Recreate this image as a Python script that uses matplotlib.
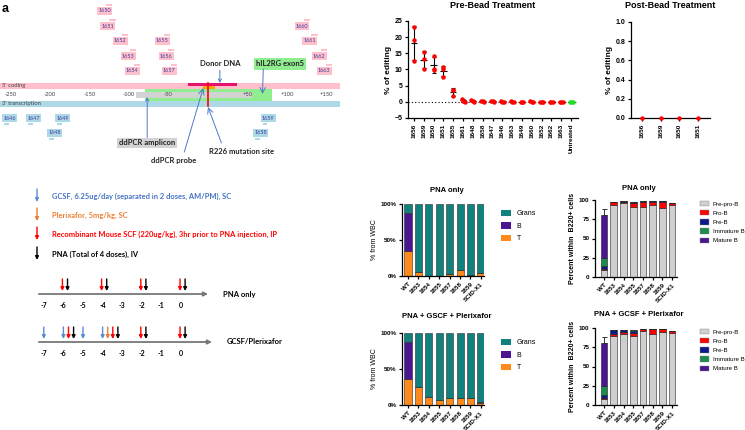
import numpy as np
import matplotlib.pyplot as plt
from matplotlib.patches import Rectangle, Patch

plt.rcParams['font.family'] = ['Liberation Sans', 'DejaVu Sans']

W, H = 745, 430

# ---------------- data ----------------
# guide RNAs along the hIL2RG exon 5 region, position in bp relative to R226
top_guides = ['1650', '1651', '1652', '1653', '1654', '1655', '1656', '1657', '1660', '1661', '1662', '1663']
top_guide_bp = [-139, -135, -119, -109, -104, -66, -61, -57, 111, 121, 133, 139]
top_guide_row = [11, 26, 41, 56, 71, 41, 56, 71, 26, 41, 56, 71]
bot_guides = ['1646', '1647', '1649', '1648', '1659', '1658']
bot_guide_bp = [-259, -229, -192, -202, 68, 59]
bot_guide_row = [118, 118, 118, 133, 118, 133]
ruler_bp = [-250, -200, -150, -100, -50, 50, 100, 150]
amplicon_bp = (-91, 56)
exon_bp = (-80, 81)
donor_bp = (-25, 37)
probe_bp = (-6, 9)

# % editing before bead treatment (3 replicates each)
pre_guides = ['1656', '1659', '1650', '1651', '1655', '1661', '1648', '1658', '1647',
              '1646', '1663', '1649', '1660', '1652', '1662', '1663', 'Untreated']
pre_rep1 = [23.0, 15.5, 14.1, 10.7, 3.7, 0.9, 0.6, 0.3, 0.3, 0.2, 0.2, 0.1, 0.2, 0.1, 0.0, 0.1, 0.0]
pre_rep2 = [19.2, 13.3, 10.0, 10.0, 3.6, 0.3, 0.2, 0.2, 0.2, 0.1, 0.1, 0.0, 0.1, 0.1, 0.0, 0.1, 0.0]
pre_rep3 = [12.5, 10.3, 9.7, 7.8, 1.7, 0.1, 0.1, 0.1, 0.1, 0.1, 0.1, 0.0, 0.0, 0.0, 0.0, 0.1, 0.0]

post_guides = ['1656', '1659', '1650', '1651']
post_values = [0.0, 0.0, 0.0, 0.0]

# WBC composition (%)
samples = ['WT', '1653', '1654', '1655', '1657', '1658', '1659', 'SCID-X1']
pna_T = [35, 5, 0.5, 0.5, 2.5, 9, 1, 3.5]
pna_B = [52, 0.5, 0, 0, 0, 0, 0, 0]
gscf_T = [36, 25, 11, 7, 9.5, 10, 9.5, 3]
gscf_B = [51, 0, 0, 0, 0, 0, 0, 1]

# B220+ subsets (%)
pna_prepro = [8.5, 93, 96.5, 91, 91, 94, 90, 93]
pna_pro = [1.5, 4, 1.5, 5, 7, 3, 8, 3]
pna_pre = [4, 1, 1, 2, 0.5, 1.5, 0.5, 0.5]
pna_imm = [11, 0, 0, 0, 0, 0, 0, 0]
pna_mat = [55, 0, 0, 0, 0, 0, 0, 0]
gscf_prepro = [8, 89, 92, 90, 96, 92, 95, 93]
gscf_pro = [1.5, 3, 3, 3, 2.5, 7, 3.5, 3]
gscf_pre = [4, 5.5, 3, 3, 0.3, 0, 0, 0.5]
gscf_imm = [11, 0, 0, 1.5, 0, 0, 0, 0]
gscf_mat = [55.5, 0, 0, 0, 0, 0, 0, 0]
wt_err = 8

# dosing schedule (day)
gcsf_days = [-7, -6, -5, -4]
plerixafor_days = [-4]
scf_days = [-6, -4, -2, 0]
pna_days = [-6, -4, -2, 0]

C_BLUE = '#5b8bd6'
C_ORANGE = '#ed7d31'
C_RED = '#ff0000'
C_GRANS = '#12807c'
C_B = '#4b1591'
C_T = '#ff8a1c'
sub_colors = ['#cfcfcf', '#ff0000', '#0a1a8c', '#1d8a4e', '#4b1591']
sub_names = ['Pre-pro-B', 'Pro-B', 'Pre-B', 'Immature B', 'Mature B']

fig = plt.figure(figsize=(W / 100, H / 100), dpi=100)


def px_axes(l, t, r, b):
    return fig.add_axes([l / W, 1 - b / H, (r - l) / W, (b - t) / H])


def ftext(x, y, s, **kw):
    fig.text(x / W, 1 - y / H, s, **kw)


def prism(ax, fs=5, xfs=None):
    for s in ['top', 'right']:
        ax.spines[s].set_visible(False)
    for s in ['left', 'bottom']:
        ax.spines[s].set_linewidth(0.9)
    ax.tick_params(width=0.9, length=2.5, labelsize=fs, pad=1.5)
    if xfs:
        ax.tick_params(axis='x', labelsize=xfs)
    for lab in ax.get_xticklabels() + ax.get_yticklabels():
        lab.set_fontweight('bold')


ftext(2, 9, 'a', fontsize=9, fontweight='bold', va='center')

# ---------------- gene map ----------------
ag = px_axes(0, 0, 340, 175)
ag.set_xlim(-263.3, 167.1)
ag.set_ylim(175, 0)
ag.axis('off')
gfont = dict(family=['Lato', 'DejaVu Sans'])
ag.add_patch(Rectangle((-263.3, 83), 430.4, 6, fc='#ffc0cb', ec='none'))
ag.add_patch(Rectangle((-263.3, 101), 430.4, 6, fc='#add8e6', ec='none'))
ag.add_patch(Rectangle((exon_bp[0], 89), exon_bp[1] - exon_bp[0], 12, fc='#90ee90', ec='none'))
ag.add_patch(Rectangle((amplicon_bp[0], 92), amplicon_bp[1] - amplicon_bp[0], 6, fc='#d3d3d3', ec='none'))
ag.add_patch(Rectangle((donor_bp[0], 83.3), donor_bp[1] - donor_bp[0], 2.8, fc='#e8116e', ec='none'))
ag.add_patch(Rectangle((probe_bp[0], 86.1), probe_bp[1] - probe_bp[0], 2.6, fc='#ffa500', ec='none'))
ag.plot([0, 0], [83, 106], color=C_RED, lw=1.2)
ag.text(-261, 86, "5' coding", fontsize=4.2, va='center', color='#444444', **gfont)
ag.text(-261, 104, "3' transcription", fontsize=4.2, va='center', color='#444444', **gfont)
for b in ruler_bp:
    lab = ('+%d' % b) if b > 0 else str(b)
    ag.text(b, 95, lab, fontsize=4.2, ha='center', va='center', color='#444444', **gfont)

for name, b, r in zip(top_guides, top_guide_bp, top_guide_row):
    ag.text(b, r, name, fontsize=4, va='center', color='#3b3b9e',
            bbox=dict(boxstyle='square,pad=0.2', fc='#ffc0cb', ec='none'), **gfont)
    ag.add_patch(Rectangle((b + 10, r - 7), 8, 2, fc='#ffc0cb', ec='none'))
for name, b, r in zip(bot_guides, bot_guide_bp, bot_guide_row):
    ag.text(b, r, name, fontsize=4, va='center', color='#3b3b9e',
            bbox=dict(boxstyle='square,pad=0.2', fc='#add8e6', ec='none'), **gfont)
    ag.add_patch(Rectangle((b + 1, r + 4.5), 6, 2, fc='#add8e6', ec='none'))

arr = dict(arrowstyle='->', color='#4a7cc9', lw=0.7, shrinkA=0, shrinkB=0)
ag.annotate('Donor DNA', xy=(15, 83), xytext=(15, 64), ha='center', va='center',
            fontsize=5.5, fontweight='bold', color='#222222', arrowprops=arr, **gfont)
ag.text(61, 64, 'hIL2RG exon5', ha='left', va='center', fontsize=5.5, fontweight='bold',
        color='#222222', bbox=dict(boxstyle='square,pad=0.3', fc='#90ee90', ec='none'), **gfont)
ag.annotate('', xy=(69, 94), xytext=(70, 69), arrowprops=arr)
ag.annotate('ddPCR amplicon', xy=(-77, 97), xytext=(-77, 143), ha='center', va='center',
            fontsize=5.5, fontweight='bold', color='#222222', arrowprops=arr,
            bbox=dict(boxstyle='square,pad=0.25', fc='#d3d3d3', ec='none'), **gfont)
ag.annotate('', xy=(-6, 88), xytext=(-30, 152), arrowprops=arr)
ag.text(-43, 160, 'ddPCR probe', fontsize=5.5, fontweight='bold', ha='center', va='center',
        color='#222222', **gfont)
ag.annotate('', xy=(0, 107), xytext=(17, 143), arrowprops=arr)
ag.text(42, 151, 'R226 mutation site', fontsize=5.5, fontweight='bold', ha='center', va='center',
        color='#222222', **gfont)

# ---------------- dosing schedule ----------------
at = px_axes(0, 180, 340, 430)
at.set_xlim((0 - 181) / 19.6, (340 - 181) / 19.6)
at.set_ylim(430, 180)
at.axis('off')
tfont = dict(family=['Lato', 'DejaVu Sans'], fontweight='bold')
legend_rows = [(C_BLUE, '#4472c4', 'GCSF, 6.25ug/day (separated in 2 doses, AM/PM), SC', 196),
               (C_ORANGE, C_ORANGE, 'Plerixafor, 5mg/kg, SC', 215),
               (C_RED, C_RED, 'Recombinant Mouse SCF (220ug/kg), 3hr prior to PNA injection, IP', 234),
               ('black', 'black', 'PNA (Total of 4 doses), IV', 254)]
lx = (37 - 181) / 19.6
for ac, tc, s, y in legend_rows:
    at.annotate('', xy=(lx, y + 6), xytext=(lx, y - 7),
                arrowprops=dict(arrowstyle='-|>', color=ac, lw=1.0, mutation_scale=5, shrinkA=0, shrinkB=0))
    at.text(lx + 0.78, y, s, fontsize=5.4, va='center', color=tc, **tfont)


def timeline(y, label, schedule, x_end):
    at.annotate('', xy=(x_end, y), xytext=(-7.25, y),
                arrowprops=dict(arrowstyle='-|>', color='#777777', lw=1.3, mutation_scale=6,
                                shrinkA=0, shrinkB=0))
    at.text(x_end + 0.75, y, label, fontsize=5.5, va='center', **tfont)
    for d in range(-7, 1):
        at.text(d, y + 12, str(d), fontsize=5, ha='center', va='center', **tfont)
    for d in range(-7, 1):
        cols = [c for c, days in schedule if d in days]
        if not cols:
            continue
        x0 = 0 if cols[0] == C_BLUE else -0.05
        for k, c in enumerate(cols):
            at.annotate('', xy=(d + x0 + 0.26 * k, y - 3), xytext=(d + x0 + 0.26 * k, y - 15),
                        arrowprops=dict(arrowstyle='-|>', color=c, lw=1.0, mutation_scale=5,
                                        shrinkA=0, shrinkB=0))


timeline(294, 'PNA only', [(C_RED, scf_days), ('black', pna_days)], (208 - 181) / 19.6)
timeline(342, 'GCSF/Plerixafor', [(C_BLUE, gcsf_days), (C_ORANGE, plerixafor_days),
                                  (C_RED, scf_days), ('black', pna_days)], (212 - 181) / 19.6)

# ---------------- pre-bead editing ----------------
ap = px_axes(408, 21, 578, 118)
reps = np.array([pre_rep1, pre_rep2, pre_rep3])
xs = np.arange(len(pre_guides))
means = reps.mean(axis=0)
sds = reps.std(axis=0, ddof=1)
ap.axhline(0, color='black', lw=0.8, ls=(0, (1, 2)), zorder=1)
ap.errorbar(xs, means, yerr=sds, fmt='none', ecolor='black', elinewidth=0.8, capsize=1.5,
            capthick=0.8, zorder=2)
ap.hlines(means, xs - 0.33, xs + 0.33, color='black', lw=0.8, zorder=2)
for i in xs:
    col = '#22dd22' if pre_guides[i] == 'Untreated' else C_RED
    vals = reps[:, i]
    offs = [-0.15, 0, 0.15] if np.ptp(vals) < 1.2 else [0, 0, 0]
    ap.plot(i + np.array(offs), vals, 'o', color=col, ms=3.2, mec='none', zorder=3)
ap.set_xlim(-0.6, 16.7)
ap.set_ylim(-5, 25)
ap.set_yticks([-5, 0, 5, 10, 15, 20, 25])
ap.set_xticks(xs)
ap.set_xticklabels(pre_guides, rotation=90)
ap.set_ylabel('% of editing', fontsize=6, fontweight='bold', labelpad=2)
prism(ap, xfs=4.6)
ftext(493, 6, 'Pre-Bead Treatment', fontsize=6.5, fontweight='bold', ha='center', va='center')

# ---------------- post-bead editing ----------------
aq = px_axes(631, 22, 710, 118)
aq.plot(np.arange(4), post_values, 'o', color=C_RED, ms=3.2, mec='none', clip_on=False, zorder=3)
aq.set_xlim(-0.6, 3.65)
aq.set_ylim(0, 1)
aq.set_yticks(np.arange(0, 1.01, 0.2))
aq.set_yticklabels(['%.1f' % v for v in np.arange(0, 1.01, 0.2)])
aq.set_xticks(np.arange(4))
aq.set_xticklabels(post_guides, rotation=90)
aq.set_ylabel('% of editing', fontsize=6, fontweight='bold', labelpad=2)
prism(aq, xfs=4.6)
ftext(670, 6, 'Post-Bead Treatment', fontsize=6.5, fontweight='bold', ha='center', va='center')


# ---------------- WBC composition ----------------
def wbc_panel(rect, T, B, title, ty):
    ax = px_axes(*rect)
    x = np.arange(len(samples))
    T = np.array(T)
    B = np.array(B)
    G = 100 - T - B
    kw = dict(width=0.68, edgecolor='#2b2b2b', linewidth=0.4)
    ax.bar(x, T, color=C_T, **kw)
    ax.bar(x, B, bottom=T, color=C_B, **kw)
    ax.bar(x, G, bottom=T + B, color=C_GRANS, **kw)
    ax.set_xlim(-0.58, 7.3)
    ax.set_ylim(0, 100)
    ax.set_yticks([0, 50, 100])
    ax.set_yticklabels(['0%', '50%', '100%'])
    ax.set_xticks(x)
    ax.set_xticklabels(samples, rotation=45, ha='right', rotation_mode='anchor')
    ax.set_ylabel('% from WBC', fontsize=5, labelpad=2)
    prism(ax, fs=4.5)
    handles = [Patch(fc=C_GRANS, label='Grans'), Patch(fc=C_B, label='B'), Patch(fc=C_T, label='T')]
    ax.legend(handles=handles, loc='upper left', bbox_to_anchor=(1.17, 0.97), frameon=False,
              fontsize=5, handlelength=1.4, handleheight=1.1, labelspacing=0.7, borderpad=0,
              handletextpad=0.8)
    ftext((rect[0] + rect[2]) / 2 + 4, ty, title, fontsize=5.5, fontweight='bold', ha='center',
          va='center')


wbc_panel((402, 204, 484, 276), pna_T, pna_B, 'PNA only', 190)
wbc_panel((402, 333, 484, 405), gscf_T, gscf_B, 'PNA + GSCF + Plerixafor', 316)


# ---------------- B220+ subsets ----------------
def bcell_panel(rect, subsets, title, ty):
    ax = px_axes(*rect)
    x = np.arange(len(samples))
    bottom = np.zeros(len(samples))
    for vals, c in zip(subsets, sub_colors):
        ax.bar(x, vals, bottom=bottom, width=0.68, color=c, edgecolor='#222222', linewidth=0.4)
        bottom = bottom + np.array(vals)
    ax.errorbar([0], [bottom[0]], yerr=[[0], [wt_err]], fmt='none', ecolor='#333333',
                elinewidth=0.7, capsize=1.8, capthick=0.7)
    ax.set_xlim(-0.93, 7.5)
    ax.set_ylim(0, 100)
    ax.set_yticks([0, 25, 50, 75, 100])
    ax.set_xticks(x)
    ax.set_xticklabels(samples, rotation=45, ha='right', rotation_mode='anchor')
    ax.set_ylabel('Percent within  B220+ cells', fontsize=5, fontweight='bold', labelpad=2)
    prism(ax, fs=4.5)
    handles = [Patch(fc=c, ec='#888888', lw=0.3, label=n) for n, c in zip(sub_names, sub_colors)]
    ax.legend(handles=handles, loc='upper left', bbox_to_anchor=(1.24, 1.03), frameon=False,
              fontsize=4.4, handlelength=1.5, handleheight=1.0, labelspacing=0.55, borderpad=0,
              handletextpad=0.6)
    ftext(639, ty, title, fontsize=5.5, fontweight='bold', ha='center', va='center')


bcell_panel((595, 200, 677, 277), [pna_prepro, pna_pro, pna_pre, pna_imm, pna_mat], 'PNA only', 188)
bcell_panel((595, 328, 677, 405), [gscf_prepro, gscf_pro, gscf_pre, gscf_imm, gscf_mat],
            'PNA + GCSF + Plerixafor', 315)

fig.savefig('out.png', dpi=100)
